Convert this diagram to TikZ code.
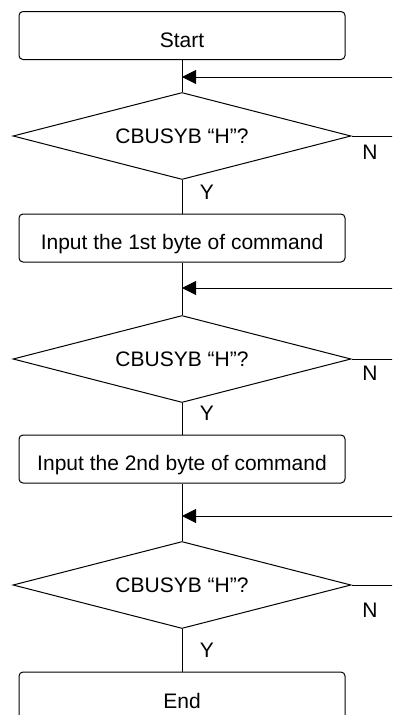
\documentclass[tikz,border=0pt]{standalone}
\usepackage{fontspec}
\setmainfont{Liberation Sans}
\usetikzlibrary{shapes.geometric,arrows.meta}
\begin{document}
\begin{tikzpicture}[x=1pt,y=-1pt,line width=1pt,
  txt/.style={font=\fontsize{21}{25}\selectfont},
  procbox/.style={txt,draw,rounded corners=4pt,minimum width=326pt,minimum height=48pt,inner sep=0pt,text height=23pt,text depth=0pt},
  decision/.style={txt,draw,diamond,minimum width=338pt,minimum height=87pt,aspect=3.88,inner sep=0pt},
  lbl/.style={txt,inner sep=0pt},
  back/.style={-{Triangle[length=14pt,width=14pt]}}
]
\useasboundingbox (0,0) rectangle (392,715);
\clip (0,0) rectangle (392,715);

\node[procbox] (start) at (182,35.5) {Start};
\node[decision] (d1) at (182,136) {CBUSYB “H”?};
\node[procbox] (in1) at (182,238) {Input the 1st byte of command};
\node[decision] (d2) at (182,359) {CBUSYB “H”?};
\node[procbox] (in2) at (182,459) {Input the 2nd byte of command};
\node[decision] (d3) at (182,585) {CBUSYB “H”?};
\node[procbox,minimum height=50pt] (end) at (182,697) {End};

\coordinate (m1) at (182,77);
\coordinate (m2) at (182,288);
\coordinate (m3) at (182,516);
\coordinate (r1) at (400,77);
\coordinate (r2) at (400,288);
\coordinate (r3) at (400,516);
\coordinate (n1) at (400,136);
\coordinate (n2) at (400,359);
\coordinate (n3) at (400,585);

\draw (start.south) -- (d1.north);
\draw (d1.south) -- (in1.north);
\draw (in1.south) -- (d2.north);
\draw (d2.south) -- (in2.north);
\draw (in2.south) -- (d3.north);
\draw (d3.south) -- (end.north);

\draw[back] (r1) -- (m1);
\draw[back] (r2) -- (m2);
\draw[back] (r3) -- (m3);

\draw (d1.east) -- (n1);
\draw (d2.east) -- (n2);
\draw (d3.east) -- (n3);

\node[lbl] (y1) at (207,192) {Y};
\node[lbl] (y2) at (207,413) {Y};
\node[lbl] (y3) at (207,650) {Y};
\node[lbl] (nl1) at (370,152) {N};
\node[lbl] (nl2) at (370,373) {N};
\node[lbl] (nl3) at (370,610) {N};
\end{tikzpicture}
\end{document}
